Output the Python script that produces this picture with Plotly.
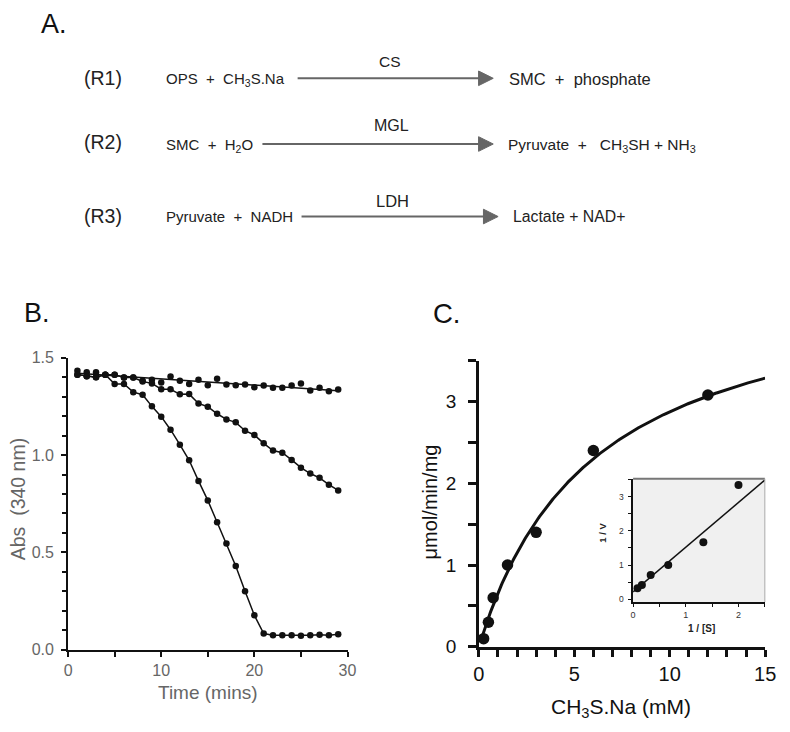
import numpy as np
import plotly.graph_objects as go

# ---------------- data ----------------
# Panel B: absorbance at 340 nm vs time (mins)
time_min = list(range(1, 30))
abs_slow = [1.433, 1.425, 1.425, 1.413, 1.413, 1.398, 1.398, 1.382, 1.387, 1.373,
            1.403, 1.382, 1.365, 1.387, 1.358, 1.392, 1.362, 1.358, 1.362, 1.348,
            1.357, 1.345, 1.345, 1.357, 1.367, 1.332, 1.345, 1.328, 1.337]
abs_mid = [1.413, 1.405, 1.400, 1.413, 1.413, 1.398, 1.398, 1.378, 1.368, 1.338,
           1.338, 1.312, 1.313, 1.265, 1.248, 1.212, 1.183, 1.168, 1.125, 1.103,
           1.060, 1.023, 1.012, 0.975, 0.935, 0.905, 0.883, 0.848, 0.818]
abs_fast = [1.413, 1.405, 1.400, 1.413, 1.365, 1.365, 1.323, 1.310, 1.250, 1.197,
            1.130, 1.053, 0.973, 0.867, 0.767, 0.655, 0.545, 0.430, 0.300, 0.177,
            0.083, 0.075, 0.075, 0.075, 0.072, 0.075, 0.077, 0.075, 0.080]

# Panel C: rate vs CH3S.Na concentration
conc_mM = [0.25, 0.5, 0.75, 1.5, 3.0, 6.0, 12.0]
rate = [0.10, 0.30, 0.60, 1.00, 1.40, 2.40, 3.08]
# Michaelis-Menten fit parameters (as drawn)
Vmax = 4.6
Km = 6.0

# page is 790x732; body keeps its default 8px margin
PAGE_W, PAGE_H = 790, 732
M = 8
W, H = PAGE_W - 2 * M, PAGE_H - 2 * M
def X(px):
    return (px - M) / W
def Y(py):
    return 1 - (py - M) / H

fig = go.Figure()

# ---------------- Panel B ----------------
t = np.array(time_min, float)
slope, icpt = np.polyfit(t, np.array(abs_slow), 1)
fig.add_trace(go.Scatter(x=time_min, y=list(slope * t + icpt), mode="lines",
                         line=dict(color="#111", width=1.5), xaxis="x", yaxis="y",
                         hoverinfo="skip"))
fig.add_trace(go.Scatter(x=time_min, y=abs_slow, mode="markers",
                         marker=dict(color="#111", size=6.5), xaxis="x", yaxis="y"))
for series in (abs_mid, abs_fast):
    fig.add_trace(go.Scatter(x=time_min, y=series, mode="lines+markers",
                             line=dict(color="#111", width=1.5),
                             marker=dict(color="#111", size=6.5), xaxis="x", yaxis="y"))

# ---------------- Panel C ----------------
s_fit = np.linspace(0.08, 15, 300)
fig.add_trace(go.Scatter(x=s_fit, y=Vmax * s_fit / (Km + s_fit), mode="lines",
                         line=dict(color="#111", width=3), xaxis="x2", yaxis="y2",
                         hoverinfo="skip"))
fig.add_trace(go.Scatter(x=conc_mM, y=rate, mode="markers",
                         marker=dict(color="#111", size=11.5), xaxis="x2", yaxis="y2"))

# Inset: Lineweaver-Burk
inv_s = [1 / c for c in conc_mM if 1 / c <= 2.5]
inv_v = [1 / v for c, v in zip(conc_mM, rate) if 1 / c <= 2.5]
lb_x = np.array([0.0, 2.5])
fig.add_trace(go.Scatter(x=lb_x, y=(Km / Vmax) * lb_x + 1 / Vmax, mode="lines",
                         line=dict(color="#111", width=1.5), xaxis="x3", yaxis="y3",
                         hoverinfo="skip"))
fig.add_trace(go.Scatter(x=inv_s, y=inv_v, mode="markers",
                         marker=dict(color="#111", size=8), xaxis="x3", yaxis="y3"))

# ---------------- axes ----------------
FONT = "Arial, Liberation Sans, sans-serif"
GRAY = "#666666"

common = dict(showgrid=False, zeroline=False, showline=True, ticks="outside",
              linecolor="#111", tickcolor="#111", fixedrange=True)

B_x0, B_x1, B_y0, B_y1 = 63.3, 349, 659, 359
C_x0, C_x1, C_y0, C_y1 = 483.3, 776, 656, 362
I_x0, I_x1, I_y0, I_y1 = 641, 775.7, 610, 483.3

fig.update_layout(
    xaxis=dict(common, domain=[X(B_x0), X(B_x1)], anchor="y", range=[0, 30],
               tickvals=[0, 10, 20, 30], ticklen=5, tickwidth=2, linewidth=2,
               tickfont=dict(size=16, color=GRAY, family=FONT),
               minor=dict(dtick=5, ticklen=5, tickwidth=2, ticks="outside", tickcolor="#111")),
    yaxis=dict(common, domain=[Y(B_y0), Y(B_y1)], anchor="x", range=[0, 1.5],
               tickvals=[0, 0.5, 1.0, 1.5], ticktext=["0.0", "0.5", "1.0", "1.5"],
               ticklen=5, tickwidth=2, linewidth=2, ticklabelstandoff=4,
               tickfont=dict(size=16, color=GRAY, family=FONT),
               minor=dict(dtick=0.1, ticklen=4, tickwidth=1.5, ticks="outside", tickcolor="#111")),
    xaxis2=dict(common, domain=[X(C_x0), X(C_x1)], anchor="y2", range=[0, 15],
                tickvals=[0, 5, 10, 15], ticklen=7, tickwidth=2.5, linewidth=2.5,
                tickfont=dict(size=20, color="#111", family=FONT),
                minor=dict(dtick=1, ticklen=7, tickwidth=2.5, ticks="outside", tickcolor="#111")),
    yaxis2=dict(common, domain=[Y(C_y0), Y(C_y1)], anchor="x2", range=[0, 3.5],
                tickvals=[0, 1, 2, 3], ticklen=8, tickwidth=2.5, linewidth=2.5,
                ticklabelstandoff=8,
                tickfont=dict(size=19, color="#111", family=FONT),
                minor=dict(dtick=0.5, ticklen=8, tickwidth=2.5, ticks="outside", tickcolor="#111")),
    xaxis3=dict(common, domain=[X(I_x0), X(I_x1)], anchor="y3", range=[0, 2.5],
                tickvals=[0, 1, 2], ticklen=3, tickwidth=1.2, linewidth=1.5,
                tickfont=dict(size=9, color="#333", family=FONT),
                minor=dict(dtick=0.5, ticklen=3, tickwidth=1.2, ticks="outside", tickcolor="#111")),
    yaxis3=dict(common, domain=[Y(I_y0), Y(I_y1)], anchor="x3", range=[-0.077, 3.52],
                tickvals=[0, 1, 2, 3], ticklen=3, tickwidth=1.2, linewidth=1.5,
                ticklabelstandoff=3,
                tickfont=dict(size=8.5, color="#333", family=FONT),
                minor=dict(dtick=0.5, tick0=0, ticklen=3, tickwidth=1.2, ticks="outside", tickcolor="#111")),
)

# inset background & borders
fig.add_shape(type="rect", xref="paper", yref="paper", x0=X(I_x0), x1=X(I_x1),
              y0=Y(I_y0), y1=Y(I_y1), fillcolor="#f0f0f0", line=dict(width=0), layer="below")
fig.add_shape(type="line", xref="paper", yref="paper", x0=X(I_x0), x1=X(I_x1),
              y0=Y(I_y1), y1=Y(I_y1), line=dict(color="#777", width=2))
fig.add_shape(type="line", xref="paper", yref="paper", x0=X(I_x1), x1=X(I_x1),
              y0=Y(I_y0), y1=Y(I_y1), line=dict(color="#aaa", width=1))

# reaction arrows (line + filled triangle head)
def arrow(px0, px1, py, color="#666"):
    head_len, head_half = 15, 7.5
    fig.add_shape(type="line", xref="paper", yref="paper",
                  x0=X(px0), x1=X(px1 - head_len + 1), y0=Y(py), y1=Y(py),
                  line=dict(color=color, width=2))
    path = "M {:.5f},{:.5f} L {:.5f},{:.5f} L {:.5f},{:.5f} Z".format(
        X(px1 - head_len), Y(py - head_half), X(px1), Y(py), X(px1 - head_len), Y(py + head_half))
    fig.add_shape(type="path", xref="paper", yref="paper", path=path,
                  fillcolor=color, line=dict(color=color, width=1))

arrow(298, 498, 72)
arrow(262, 498, 139.5)
arrow(302, 503, 214)

# ---------------- annotations ----------------
ann = []
def txt(text, px, py, size, color="#222", xanchor="left", angle=0, bold=False):
    if bold:
        text = "<b>" + text + "</b>"
    ann.append(dict(text=text, x=X(px), y=Y(py), xref="paper", yref="paper",
                    xanchor=xanchor, yanchor="middle", showarrow=False, textangle=angle,
                    font=dict(size=size, color=color, family=FONT)))

# panel labels
txt("A.", 34, 16, 27, "#111")
txt("B.", 16, 313, 27, "#111")
txt("C.", 434, 314, 27.5, "#111")

# reactions
txt("(R1)", 78, 72, 19.5)
txt("OPS  +  CH<sub>3</sub>S.Na", 161, 73, 15)
txt("CS", 392, 55, 15.5, xanchor="center")
txt("SMC  +  phosphate", 512, 73, 16.5)

txt("(R2)", 78, 137, 19.5)
txt("SMC  +  H<sub>2</sub>O", 161, 141, 15)
txt("MGL", 394, 120, 16, xanchor="center")
txt("Pyruvate  +   CH<sub>3</sub>SH + NH<sub>3</sub>", 511, 141, 15.5)

txt("(R3)", 78, 213, 19.5)
txt("Pyruvate  +  NADH", 161, 214, 15)
txt("LDH", 395, 198, 16.5, xanchor="center")
txt("Lactate + NAD+", 516, 214, 15.8)

# axis titles
txt("Time (mins)", 206, 703, 19, GRAY, xanchor="center")
txt("Abs  (340 nm)", 11.5, 504, 19.5, GRAY, xanchor="center", angle=-90)
txt("CH<sub>3</sub>S.Na (mM)", 629, 719, 21, "#111", xanchor="center")
txt("μmol/min/mg", 433, 507, 20, "#111", xanchor="center", angle=-90)
txt("1 / [S]", 711, 637, 10, "#222", xanchor="center", bold=True)
txt("1 / V", 610, 539, 9.5, "#222", xanchor="center", angle=-90, bold=True)

fig.update_layout(
    annotations=ann,
    width=W, height=H, margin=dict(l=0, r=0, t=0, b=0),
    paper_bgcolor="white", plot_bgcolor="rgba(0,0,0,0)",
    showlegend=False, font=dict(family=FONT),
)

fig.write_html("out.html", config={"displayModeBar": False})
